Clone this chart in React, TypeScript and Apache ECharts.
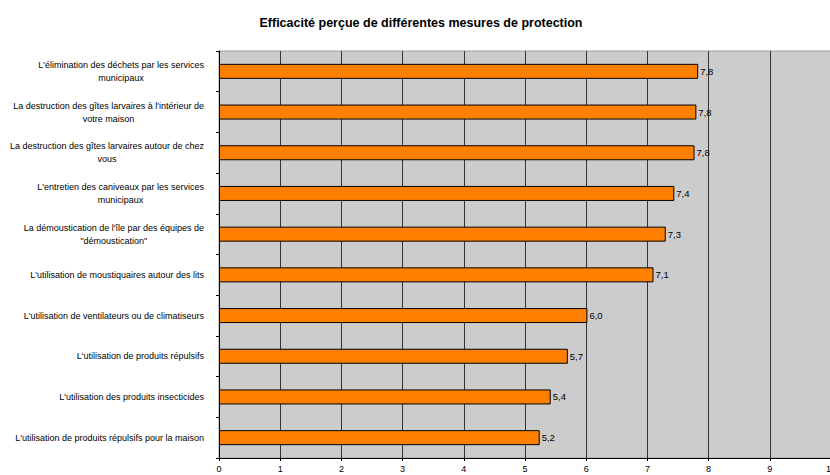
import React, { useEffect, useRef } from "react";
import * as echarts from "echarts";

const title = "Efficacité perçue de différentes mesures de protection";
const categories = [
  "L'élimination des déchets par les services\nmunicipaux",
  "La destruction des gîtes larvaires à l'intérieur de\nvotre maison",
  "La destruction des gîtes larvaires autour de chez\nvous",
  "L'entretien des caniveaux par les services\nmunicipaux",
  "La démoustication de l'île par des équipes de\n\"démoustication\"",
  "L'utilisation de moustiquaires autour des lits",
  "L'utilisation de ventilateurs ou de climatiseurs",
  "L'utilisation de produits répulsifs",
  "L'utilisation des produits insecticides",
  "L'utilisation de produits répulsifs pour la maison",
];
const values = [7.83, 7.8, 7.77, 7.44, 7.3, 7.1, 6.02, 5.7, 5.42, 5.24];
const xMin = 0;
const xMax = 10;
const xInterval = 1;

const FONT = "'Liberation Sans', Arial, sans-serif";

export default function App() {
  const ref = useRef<HTMLDivElement>(null);
  useEffect(() => {
    document.body.style.margin = "0";
    const chart = echarts.init(ref.current!, undefined, { renderer: "svg" });
    chart.setOption({
      animation: false,
      backgroundColor: "#ffffff",
      title: {
        text: title,
        left: 416,
        textAlign: "center",
        top: 11,
        textStyle: { fontFamily: FONT, fontSize: 12.5, fontWeight: "bold", color: "#000" },
      },
      grid: {
        left: 219,
        top: 51,
        width: 612,
        height: 407,
        outerBoundsMode: "none",
        containLabel: false,
        show: true,
        backgroundColor: "#CCCCCC",
        borderColor: "#A0A0A0",
        borderWidth: 1,
      },
      xAxis: {
        type: "value",
        min: xMin,
        max: xMax,
        interval: xInterval,
        axisLine: { show: true, lineStyle: { color: "#000", width: 1 } },
        axisTick: { show: true, length: 3, lineStyle: { color: "#000" } },
        splitLine: { show: true, lineStyle: { color: "#333", width: 1 } },
        axisLabel: { fontFamily: FONT, fontSize: 9, color: "#000", margin: 6 },
      },
      yAxis: {
        type: "category",
        inverse: true,
        data: categories,
        axisLine: { show: true, lineStyle: { color: "#000", width: 1 } },
        axisTick: { show: true, length: 3, lineStyle: { color: "#000" } },
        splitLine: { show: false },
        axisLabel: {
          margin: 15,
          align: "right",
          lineHeight: 13,
          fontFamily: FONT,
          fontSize: 9,
          color: "#000",
          formatter: (v: string) =>
            v
              .split("\n")
              .map((l) => `{c|${l}}`)
              .join("\n"),
          rich: {
            c: { align: "center", fontFamily: FONT, fontSize: 9, color: "#000", lineHeight: 13 },
          },
        },
      },
      series: [
        {
          type: "bar",
          data: values,
          barWidth: 15,
          itemStyle: { color: "#FF8000", borderColor: "#000", borderWidth: 1 },
          label: {
            show: true,
            position: "right",
            distance: 2,
            fontFamily: FONT,
            fontSize: 9.5,
            color: "#000",
            formatter: (p: any) => p.value.toFixed(1).replace(".", ","),
          },
        },
      ],
    });
    return () => chart.dispose();
  }, []);
  return <div ref={ref} style={{ width: 830, height: 475 }} />;
}
